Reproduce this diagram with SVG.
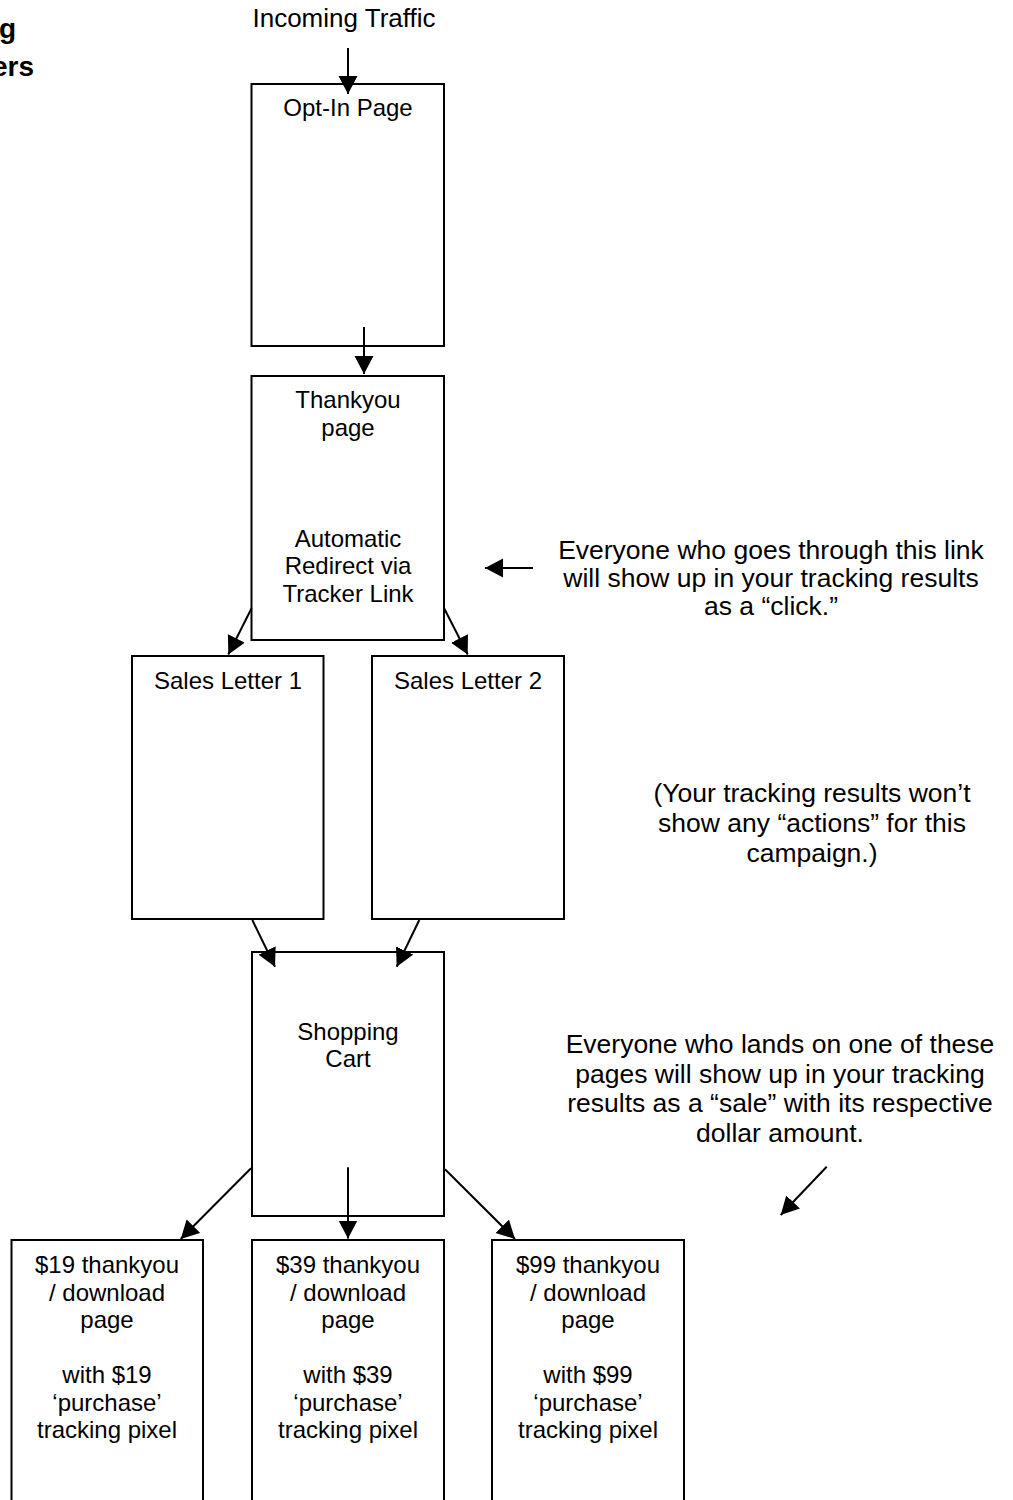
<svg xmlns="http://www.w3.org/2000/svg" width="1013" height="1500" viewBox="0 0 1013 1500">
<style>
.box{fill:#fff;stroke:#000;stroke-width:2}
.t{font-family:"Liberation Sans",Arial,sans-serif;font-size:24px;fill:#000;text-anchor:middle}
.a{font-family:"Liberation Sans",Arial,sans-serif;font-size:26.5px;fill:#000;text-anchor:middle}
.b{font-family:"Liberation Sans",Arial,sans-serif;font-size:28px;font-weight:bold;fill:#000}
.c{stroke:#000;stroke-width:2;fill:none;marker-end:url(#ah)}
</style>
<defs>
<marker id="ah" markerUnits="userSpaceOnUse" markerWidth="20" markerHeight="20" refX="18" refY="9.5" orient="auto">
<path d="M0,0 L18,9.5 L0,19 z" fill="#000"/>
</marker>
</defs>
<rect width="1013" height="1500" fill="#fff"/>
<g id="title-fragment">
<text class="b" x="-1" y="38">g</text>
<text class="b" x="-8" y="76">ers</text>
</g>
<g id="incoming"><text class="t" x="344" y="27" style="font-size:26px">Incoming Traffic</text></g>
<g id="optin">
<rect class="box" x="251.5" y="84" width="192.5" height="262"/>
<text class="t" x="348" y="116">Opt-In Page</text>
</g>
<g id="thankyou">
<rect class="box" x="251.5" y="376" width="192.5" height="264"/>
<text class="t" x="348" y="408">Thankyou</text>
<text class="t" x="348" y="435.5">page</text>
<text class="t" x="348" y="546.5">Automatic</text>
<text class="t" x="348" y="574">Redirect via</text>
<text class="t" x="348" y="601.5">Tracker Link</text>
</g>
<g id="sales1">
<rect class="box" x="132" y="656" width="191.5" height="263"/>
<text class="t" x="228" y="689">Sales Letter 1</text>
</g>
<g id="sales2">
<rect class="box" x="372" y="656" width="192" height="263"/>
<text class="t" x="468" y="689">Sales Letter 2</text>
</g>
<g id="cart">
<rect class="box" x="252" y="952" width="192" height="264"/>
<text class="t" x="348" y="1040">Shopping</text>
<text class="t" x="348" y="1067">Cart</text>
</g>
<g id="ty19">
<rect class="box" x="11.5" y="1240" width="191.5" height="280"/>
<text class="t" x="107" y="1273">$19 thankyou</text>
<text class="t" x="107" y="1300.5">/ download</text>
<text class="t" x="107" y="1328">page</text>
<text class="t" x="107" y="1383">with $19</text>
<text class="t" x="107" y="1410.5">‘purchase’</text>
<text class="t" x="107" y="1438">tracking pixel</text>
</g>
<g id="ty39">
<rect class="box" x="252" y="1240" width="192" height="280"/>
<text class="t" x="348" y="1273">$39 thankyou</text>
<text class="t" x="348" y="1300.5">/ download</text>
<text class="t" x="348" y="1328">page</text>
<text class="t" x="348" y="1383">with $39</text>
<text class="t" x="348" y="1410.5">‘purchase’</text>
<text class="t" x="348" y="1438">tracking pixel</text>
</g>
<g id="ty99">
<rect class="box" x="492" y="1240" width="192" height="280"/>
<text class="t" x="588" y="1273">$99 thankyou</text>
<text class="t" x="588" y="1300.5">/ download</text>
<text class="t" x="588" y="1328">page</text>
<text class="t" x="588" y="1383">with $99</text>
<text class="t" x="588" y="1410.5">‘purchase’</text>
<text class="t" x="588" y="1438">tracking pixel</text>
</g>
<g id="note-click">
<text class="a" x="771" y="559">Everyone who goes through this link</text>
<text class="a" x="771" y="587">will show up in your tracking results</text>
<text class="a" x="771" y="615">as a “click.”</text>
</g>
<g id="note-actions">
<text class="a" x="812" y="802">(Your tracking results won’t</text>
<text class="a" x="812" y="832">show any “actions” for this</text>
<text class="a" x="812" y="862">campaign.)</text>
</g>
<g id="note-sale">
<text class="a" x="780" y="1053">Everyone who lands on one of these</text>
<text class="a" x="780" y="1082.5">pages will show up in your tracking</text>
<text class="a" x="780" y="1112">results as a “sale” with its respective</text>
<text class="a" x="780" y="1141.5">dollar amount.</text>
</g>
<g id="connectors">
<line class="c" x1="348" y1="48" x2="348" y2="94"/>
<line class="c" x1="364" y1="327" x2="364" y2="374"/>
<line class="c" x1="251.7" y1="608" x2="228.3" y2="654.5"/>
<line class="c" x1="444" y1="608" x2="467.7" y2="654.5"/>
<line class="c" x1="252.3" y1="920" x2="275" y2="966.7"/>
<line class="c" x1="419.3" y1="920" x2="396.7" y2="966.7"/>
<line class="c" x1="251" y1="1168.3" x2="180.7" y2="1239"/>
<line class="c" x1="348" y1="1167.3" x2="348" y2="1238.5"/>
<line class="c" x1="445" y1="1169.3" x2="515" y2="1239"/>
<line class="c" x1="533" y1="568" x2="485" y2="568"/>
<line class="c" x1="826.7" y1="1166.7" x2="780.7" y2="1215"/>
</g>
</svg>
